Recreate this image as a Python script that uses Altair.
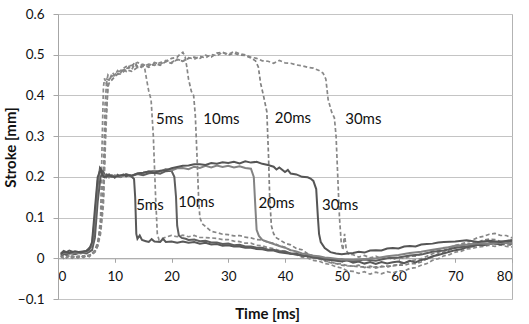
import altair as alt
import pandas as pd

# ---- data ----
SOLID_5MS = [(0.5,0.012),(1,0.018),(1.5,0.015),(2,0.019),(3,0.014),(4,0.016),(5,0.018),(5.5,0.025),(6,0.03),(6.5,0.08),(7,0.18),(7.4,0.222),(7.8,0.214),(8.2,0.2),(8.6,0.206),(9,0.199),(9.5,0.204),(10,0.198),(10.5,0.205),(11,0.2),(11.5,0.206),(12,0.201),(12.5,0.204),(13,0.2),(13.4,0.195),(13.6,0.15),(13.8,0.06),(14,0.048),(14.4,0.056),(14.8,0.045),(15.5,0.042),(16,0.04),(16.5,0.047),(17,0.041),(18,0.04),(18.5,0.048),(19,0.04),(20,0.041),(21,0.038),(22,0.041),(23,0.038),(24,0.04),(25,0.036),(26,0.038),(27,0.034),(28,0.035),(29,0.031),(30,0.032),(31,0.029),(32,0.029),(33,0.026),(34,0.026),(35,0.023),(36,0.022),(37,0.019),(38,0.019),(39,0.015),(40,0.013),(41,0.011),(42,0.009),(43,0.006),(44,0.005),(45,0.002),(46,0.0),(47,-0.003),(48,-0.004),(49,-0.006),(50,-0.008),(51,-0.005),(52,-0.011),(53,-0.008),(54,-0.013),(55,-0.009),(56,-0.014),(57,-0.009),(58,-0.013),(59,-0.01),(60,-0.008),(61,-0.012),(62,-0.006),(63,-0.01),(64,-0.004),(65,-0.001),(66,0.005),(67,0.008),(68,0.012),(69,0.016),(70,0.02),(71,0.022),(72,0.027),(73,0.029),(74,0.033),(75,0.032),(76,0.035),(77,0.037),(78,0.034),(79,0.038),(80,0.035)]
SOLID_10MS = [(0.5,0.006),(1,0.012),(1.5,0.009),(2,0.013),(3,0.01),(4,0.014),(5,0.012),(5.5,0.016),(6,0.02),(6.5,0.05),(7,0.14),(7.5,0.2),(8,0.212),(8.5,0.199),(9,0.206),(9.5,0.2),(10,0.203),(11,0.2),(12,0.206),(13,0.202),(14,0.207),(15,0.204),(16,0.209),(17,0.21),(18,0.208),(19,0.214),(20,0.215),(20.5,0.2),(20.8,0.15),(21,0.08),(21.3,0.056),(21.8,0.05),(22.5,0.048),(23,0.045),(24,0.046),(25,0.042),(26,0.043),(27,0.039),(28,0.039),(29,0.035),(30,0.036),(31,0.032),(32,0.033),(33,0.029),(34,0.029),(35,0.026),(36,0.026),(37,0.021),(38,0.021),(39,0.017),(40,0.017),(41,0.012),(42,0.012),(43,0.007),(44,0.007),(45,0.003),(46,0.003),(47,-0.001),(48,-0.001),(49,-0.004),(50,-0.003),(52,-0.007),(54,-0.003),(56,-0.006),(58,0.0),(60,0.002),(62,0.007),(64,0.009),(66,0.016),(68,0.019),(70,0.026),(72,0.029),(74,0.035),(76,0.037),(78,0.041),(80,0.041)]
SOLID_20MS = [(0.5,0.008),(1,0.014),(2,0.011),(3,0.015),(4,0.012),(5,0.016),(5.5,0.02),(6,0.035),(6.5,0.1),(7,0.19),(7.4,0.215),(8,0.205),(9,0.2),(10,0.203),(11,0.2),(12,0.206),(13,0.203),(14,0.208),(15,0.21),(16,0.213),(17,0.215),(18,0.213),(19,0.219),(20,0.216),(21,0.221),(22,0.222),(23,0.219),(24,0.225),(25,0.222),(26,0.227),(27,0.223),(28,0.228),(29,0.224),(30,0.227),(31,0.223),(32,0.226),(33,0.222),(34,0.22),(34.5,0.2),(34.8,0.12),(35,0.07),(35.4,0.055),(36,0.045),(37,0.04),(38,0.035),(39,0.03),(40,0.026),(41,0.02),(42,0.017),(43,0.012),(44,0.01),(45,0.006),(46,0.005),(47,0.002),(48,0.001),(50,-0.003),(52,-0.004),(54,-0.002),(56,0.0),(58,0.005),(60,0.008),(62,0.013),(64,0.016),(66,0.021),(68,0.025),(70,0.031),(72,0.033),(74,0.037),(76,0.035),(78,0.039),(80,0.036)]
SOLID_30MS = [(0.5,0.01),(1,0.016),(2,0.013),(3,0.017),(4,0.014),(5,0.018),(5.5,0.022),(6,0.04),(6.5,0.12),(7,0.2),(7.5,0.218),(8,0.2),(9,0.203),(10,0.2),(11,0.204),(12,0.205),(13,0.203),(14,0.208),(15,0.21),(16,0.213),(17,0.21),(18,0.215),(19,0.216),(20,0.221),(21,0.224),(22,0.227),(23,0.228),(24,0.231),(25,0.231),(26,0.229),(27,0.234),(28,0.232),(29,0.236),(30,0.234),(31,0.237),(32,0.233),(33,0.238),(34,0.235),(35,0.237),(36,0.232),(37,0.229),(38,0.225),(38.5,0.218),(39,0.223),(40,0.212),(40.5,0.217),(41,0.208),(42,0.206),(43,0.2),(44,0.199),(44.5,0.196),(45,0.19),(45.5,0.17),(45.8,0.1),(46,0.06),(46.3,0.04),(47,0.025),(48,0.015),(49,0.012),(50,0.01),(51,0.012),(52,0.013),(53,0.016),(54,0.014),(55,0.019),(56,0.02),(57,0.019),(58,0.024),(59,0.025),(60,0.024),(61,0.029),(62,0.03),(63,0.029),(64,0.034),(65,0.035),(66,0.036),(67,0.039),(68,0.04),(70,0.041),(72,0.044),(74,0.04),(76,0.043),(78,0.04),(80,0.045)]

DASH_5MS = [(0.5,0.005),(1,0.0),(1.5,0.008),(2,0.002),(2.5,0.006),(3,0.001),(3.5,0.005),(4,0.002),(4.5,0.006),(5,0.003),(5.5,0.008),(6,0.01),(6.5,0.015),(7,0.03),(7.5,0.1),(7.8,0.3),(8,0.42),(8.2,0.442),(8.5,0.428),(8.8,0.45),(9.2,0.443),(9.6,0.456),(10,0.449),(10.5,0.461),(11,0.454),(11.5,0.466),(12,0.459),(12.5,0.471),(13,0.464),(13.5,0.476),(14,0.469),(14.5,0.467),(15,0.473),(15.3,0.465),(15.6,0.44),(16,0.41),(16.4,0.39),(16.8,0.3),(17.2,0.15),(17.5,0.06),(17.8,0.045),(18.5,0.049),(19,0.052),(20,0.056),(21,0.053),(22,0.057),(23,0.053),(24,0.056),(25,0.051),(26,0.051),(27,0.05),(28,0.049),(29,0.046),(30,0.046),(31,0.042),(32,0.041),(33,0.037),(34,0.037),(35,0.032),(36,0.031),(37,0.026),(38,0.024),(39,0.019),(40,0.016),(41,0.011),(42,0.009),(43,0.003),(44,0.001),(45,-0.005),(46,-0.007),(47,-0.013),(48,-0.015),(49,-0.021),(50,-0.024),(51,-0.031),(52,-0.032),(53,-0.037),(54,-0.033),(55,-0.039),(56,-0.034),(57,-0.038),(58,-0.033),(59,-0.036),(60,-0.031),(61,-0.031),(62,-0.025),(63,-0.023),(64,-0.017),(65,-0.013),(66,-0.005),(67,-0.001),(68,0.006),(69,0.009),(70,0.015),(71,0.017),(72,0.023),(73,0.024),(74,0.028),(75,0.029),(76,0.032),(77,0.029),(78,0.033),(79,0.029),(80,0.028)]
DASH_10MS = [(0.5,0.002),(1,0.007),(1.5,0.001),(2,0.006),(2.5,0.0),(3,0.005),(3.5,0.001),(4,0.006),(4.5,0.002),(5,0.007),(5.5,0.004),(6,0.012),(6.5,0.02),(7,0.04),(7.5,0.08),(8,0.2),(8.3,0.38),(8.6,0.44),(9,0.438),(9.5,0.447),(10,0.451),(11,0.453),(12,0.463),(13,0.459),(14,0.469),(15,0.471),(16,0.477),(17,0.474),(18,0.481),(19,0.484),(20,0.491),(21,0.494),(21.5,0.501),(22,0.506),(22.4,0.495),(22.7,0.47),(23,0.44),(23.5,0.41),(23.9,0.4),(24.2,0.35),(24.5,0.25),(24.8,0.14),(25,0.1),(25.4,0.085),(26,0.078),(26.5,0.072),(27,0.066),(28,0.063),(29,0.059),(30,0.058),(31,0.055),(32,0.056),(33,0.052),(34,0.05),(35,0.046),(36,0.045),(37,0.039),(38,0.037),(39,0.031),(40,0.027),(41,0.019),(42,0.016),(43,0.009),(44,0.007),(45,0.001),(46,-0.001),(47,-0.007),(48,-0.009),(49,-0.013),(50,-0.014),(51,-0.018),(52,-0.019),(53,-0.017),(54,-0.023),(55,-0.019),(56,-0.024),(57,-0.019),(58,-0.022),(59,-0.017),(60,-0.016),(62,-0.007),(64,-0.001),(66,0.011),(68,0.019),(70,0.031),(72,0.039),(74,0.051),(75,0.054),(76,0.059),(77,0.061),(78,0.056),(79,0.056),(80,0.05)]
DASH_20MS = [(0.5,0.004),(1,0.009),(1.5,0.003),(2,0.008),(2.5,0.002),(3,0.007),(3.5,0.003),(4,0.008),(4.5,0.004),(5,0.009),(5.5,0.006),(6,0.01),(6.5,0.018),(7,0.035),(7.5,0.07),(8,0.15),(8.4,0.33),(8.8,0.42),(9,0.43),(10,0.446),(11,0.459),(12,0.466),(13,0.469),(13.5,0.481),(14,0.471),(15,0.476),(16,0.469),(17,0.479),(18,0.474),(19,0.483),(20,0.479),(21,0.488),(22,0.484),(23,0.491),(24,0.494),(25,0.491),(26,0.499),(27,0.494),(28,0.504),(29,0.506),(30,0.499),(31,0.504),(32,0.499),(33,0.498),(34,0.492),(34.8,0.485),(35.3,0.47),(35.7,0.43),(36.2,0.4),(36.8,0.36),(37.1,0.25),(37.3,0.15),(37.6,0.08),(38,0.06),(38.5,0.05),(39,0.046),(40,0.037),(41,0.033),(42,0.024),(43,0.021),(44,0.011),(45,0.006),(46,-0.001),(47,-0.004),(48,-0.011),(49,-0.013),(50,-0.017),(51,-0.019),(52,-0.019),(53,-0.021),(54,-0.021),(55,-0.023),(56,-0.021),(57,-0.021),(58,-0.019),(59,-0.019),(60,-0.017),(61,-0.017),(62,-0.013),(63,-0.013),(64,-0.009),(65,-0.001),(66,0.003),(67,0.011),(68,0.015),(69,0.021),(70,0.025),(71,0.031),(72,0.033),(73,0.039),(74,0.039),(75,0.045),(76,0.047),(77,0.046),(78,0.041),(79,0.041),(80,0.037)]
DASH_30MS = [(0.5,0.003),(1,0.008),(1.5,0.002),(2,0.007),(2.5,0.001),(3,0.006),(3.5,0.002),(4,0.007),(4.5,0.003),(5,0.008),(5.5,0.005),(6,0.009),(6.5,0.016),(7,0.03),(7.5,0.06),(8,0.13),(8.4,0.3),(8.8,0.43),(9,0.44),(10,0.451),(11,0.461),(12,0.471),(13,0.474),(14,0.481),(15,0.475),(16,0.473),(17,0.481),(18,0.476),(19,0.486),(20,0.481),(21,0.489),(22,0.484),(23,0.493),(24,0.489),(25,0.496),(26,0.492),(27,0.501),(28,0.497),(29,0.506),(30,0.501),(31,0.508),(32,0.502),(33,0.5),(34,0.494),(35,0.491),(36,0.485),(37,0.484),(38,0.479),(39,0.486),(40,0.48),(41,0.479),(42,0.475),(43,0.473),(44,0.469),(45,0.467),(46,0.461),(46.7,0.455),(47.2,0.44),(47.6,0.39),(48.2,0.36),(48.7,0.345),(49,0.3),(49.3,0.2),(49.6,0.1),(49.9,0.04),(50.2,0.02),(50.5,0.06),(50.8,0.02),(51.2,0.01),(52,0.009),(53,0.003),(54,0.007),(55,0.001),(56,0.005),(57,-0.001),(58,0.004),(59,-0.003),(60,0.003),(61,-0.001),(62,0.005),(63,0.005),(64,0.011),(65,0.013),(66,0.019),(67,0.021),(68,0.026),(69,0.027),(70,0.031),(71,0.031),(72,0.035),(73,0.035),(74,0.036),(75,0.036),(76,0.037),(77,0.034),(78,0.035),(79,0.032),(80,0.033)]

SOLID_SERIES = {"s5": SOLID_5MS, "s10": SOLID_10MS, "s20": SOLID_20MS, "s30": SOLID_30MS}
DASH_SERIES = {"d5": DASH_5MS, "d10": DASH_10MS, "d20": DASH_20MS, "d30": DASH_30MS}
SERIES_COLORS = {"s5": "#585858", "s10": "#5e5e5e", "s20": "#838383", "s30": "#555555",
                 "d5": "#8a8a8a", "d10": "#868686", "d20": "#818181", "d30": "#888888"}

LABEL_TEXT = ["5ms", "10ms", "20ms", "30ms", "5ms", "10ms", "20ms", "30ms"]
LABEL_X = [19.7, 28.8, 41.4, 53.8, 16.2, 24.4, 38.5, 49.7]
LABEL_Y = [0.343, 0.343, 0.345, 0.343, 0.132, 0.138, 0.135, 0.132]

X_TICKS = [0, 10, 20, 30, 40, 50, 60, 70, 80]
Y_TICKS = [-0.1, 0, 0.1, 0.2, 0.3, 0.4, 0.5, 0.6]

# ---- build tables ----
def to_long(series):
    rows = []
    for name, pts in series.items():
        for i, (x, y) in enumerate(pts):
            rows.append({"series": name, "t": x, "stroke": y, "order": i})
    return pd.DataFrame(rows)

solid_df = to_long(SOLID_SERIES)
dash_df = to_long(DASH_SERIES)
labels_df = pd.DataFrame({"label": LABEL_TEXT, "t": LABEL_X, "stroke": LABEL_Y})

W, H = 454, 285
FONT = "Lato"

x_scale = alt.Scale(domain=[0, 80], nice=False, zero=False)
y_scale = alt.Scale(domain=[-0.1, 0.6], nice=False, zero=False)
color_scale = alt.Scale(domain=list(SERIES_COLORS.keys()), range=list(SERIES_COLORS.values()))

x_enc = alt.X("t:Q", scale=x_scale, axis=alt.Axis(
    title="Time [ms]", values=X_TICKS, format="d", grid=False,
    offset=-H / 7.0, tickSize=4, labelPadding=7,
    titleX=209, titleY=55, titleAlign="center", titleBaseline="middle",
))
y_enc = alt.Y("stroke:Q", scale=y_scale, axis=alt.Axis(
    title="Stroke [mm]", values=Y_TICKS, format="~g", grid=True,
    tickSize=5, labelPadding=9,
    titleX=-48, titleY=133, titleAngle=270, titleAlign="center", titleBaseline="middle",
))

solid = alt.Chart(solid_df).mark_line(strokeWidth=2, interpolate="linear").encode(
    x=x_enc, y=y_enc,
    color=alt.Color("series:N", scale=color_scale, legend=None),
    order="order:Q",
)
dashed = alt.Chart(dash_df).mark_line(strokeWidth=1.7, strokeDash=[4, 2.5]).encode(
    x=x_enc, y=y_enc,
    color=alt.Color("series:N", scale=color_scale, legend=None),
    order="order:Q",
)
text = alt.Chart(labels_df).mark_text(font=FONT, fontSize=15, color="#111111", align="center", baseline="middle").encode(
    x="t:Q", y="stroke:Q", text="label:N"
)

chart = alt.layer(dashed, solid, text).properties(
    width=W, height=H,
    autosize=alt.AutoSizeParams(type="none"),
    padding={"left": 58, "top": 14, "right": 17, "bottom": 25},
    background="white",
).configure_view(
    stroke="#b3b3b3", strokeWidth=1
).configure_axis(
    labelFont=FONT, labelFontSize=13.5, labelColor="#111111",
    titleFont=FONT, titleFontSize=15, titleFontWeight="bold", titleColor="#111111",
    domainColor="#a6a6a6", tickColor="#a6a6a6", gridColor="#c4c4c4",
    domainWidth=1, tickWidth=1, gridWidth=1,
)

chart.save("out.html", embed_options={"renderer": "svg", "actions": False})
